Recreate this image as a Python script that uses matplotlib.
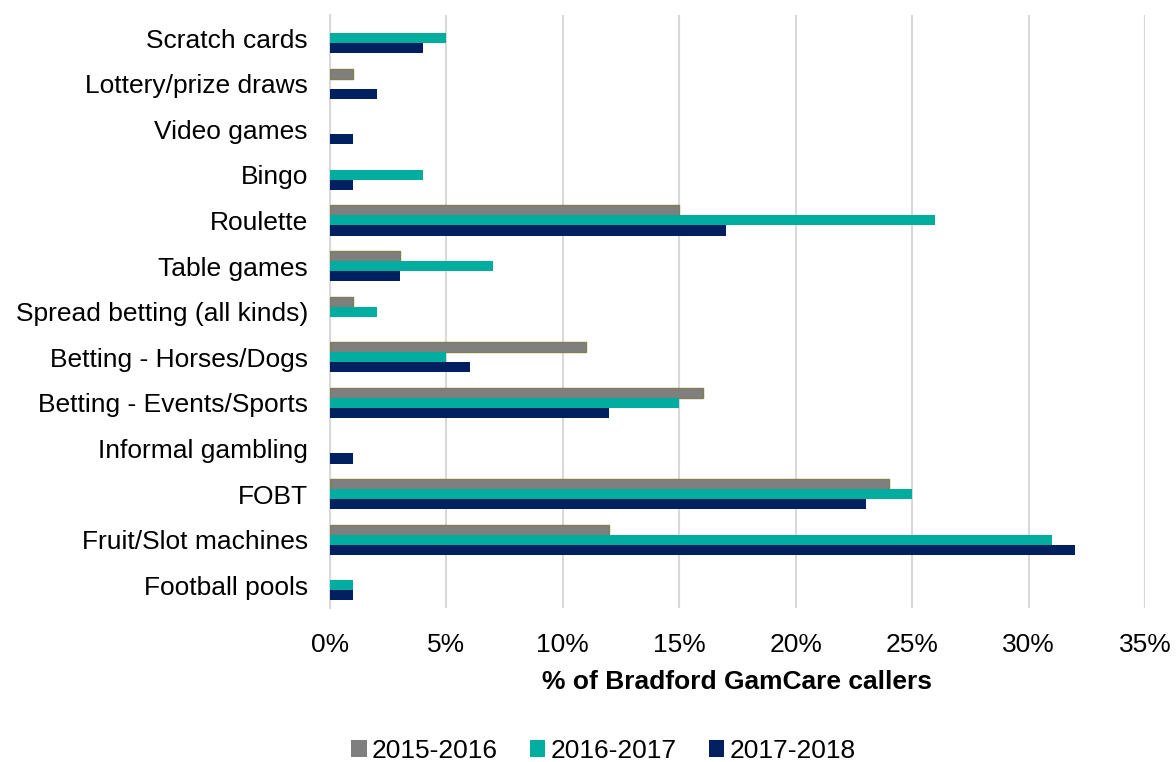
import numpy as np
import matplotlib.pyplot as plt

plt.rcParams['font.family'] = ['Liberation Sans', 'DejaVu Sans']

categories = ["Scratch cards", "Lottery/prize draws", "Video games", "Bingo",
              "Roulette", "Table games", "Spread betting (all kinds)",
              "Betting - Horses/Dogs", "Betting - Events/Sports",
              "Informal gambling", "FOBT", "Fruit/Slot machines", "Football pools"]
y2015 = [0, 1, 0, 0, 15, 3, 1, 11, 16, 0, 24, 12, 0]
y2016 = [5, 0, 0, 4, 26, 7, 2, 5, 15, 0, 25, 31, 1]
y2017 = [4, 2, 1, 1, 17, 3, 0, 6, 12, 1, 23, 32, 1]
series_names = ["2015-2016", "2016-2017", "2017-2018"]
xticks = [0, 5, 10, 15, 20, 25, 30, 35]

fs = 19

fig = plt.figure(figsize=(11.76, 7.62), dpi=100)
ax = fig.add_axes([0.2806, 0.202, 0.693, 0.778])

pos = np.arange(len(categories))
h = 0.22
# outline only on non-empty grey bars so zero values leave no sliver
lw15 = [1.0 if v > 0 else 0 for v in y2015]
ax.barh(pos - h, y2015, height=h, color="#7f7f7f", edgecolor="#7f7f4f",
        linewidth=lw15, label=series_names[0], zorder=3)
ax.barh(pos, y2016, height=h, color="#00ad9f", linewidth=0,
        label=series_names[1], zorder=3)
ax.barh(pos + h, y2017, height=h, color="#002060", linewidth=0,
        label=series_names[2], zorder=3)

ax.set_ylim(len(categories) - 0.5, -0.5)
ax.set_xlim(0, 35)
ax.set_yticks(pos)
ax.set_yticklabels(categories, fontsize=fs)
ax.set_xticks(xticks)
ax.set_xticklabels([f"{t}%" for t in xticks], fontsize=fs)
ax.tick_params(axis='y', length=0, pad=16)
ax.tick_params(axis='x', length=0, pad=18)

ax.grid(axis='x', color="#d9d9d9", linewidth=1.5, zorder=0)
for s in ["top", "right", "bottom"]:
    ax.spines[s].set_visible(False)
ax.spines["left"].set_color("#d9d9d9")
ax.spines["left"].set_linewidth(1.5)

ax.set_xlabel("% of Bradford GamCare callers", fontsize=fs, fontweight="bold",
              labelpad=9)

fig.legend(loc="lower center", bbox_to_anchor=(0.513, -0.032), ncol=3,
           frameon=False, fontsize=fs, handlelength=0.6, handleheight=0.6,
           handletextpad=0.2, columnspacing=1.2)

fig.savefig("out.png", dpi=100)
